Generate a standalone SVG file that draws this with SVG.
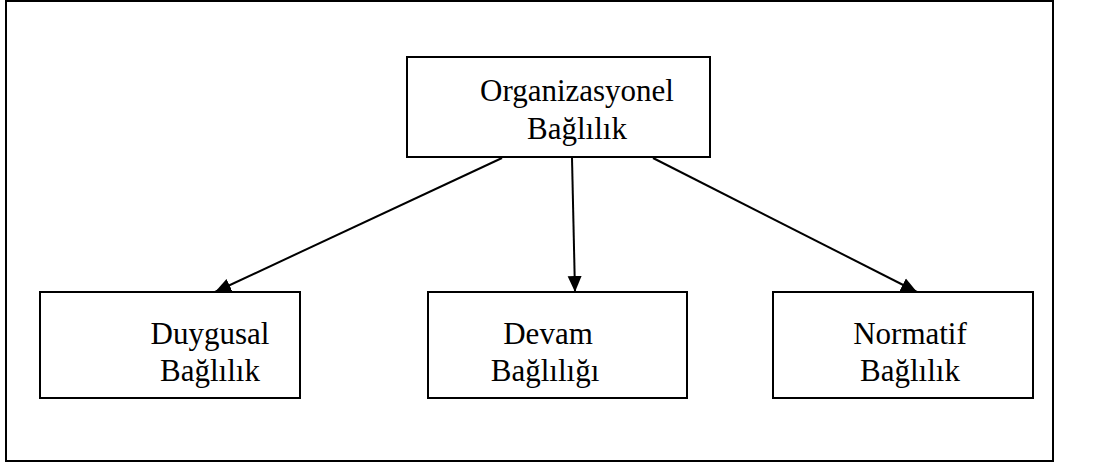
<svg xmlns="http://www.w3.org/2000/svg" width="1094" height="463" viewBox="0 0 1094 463">
  <defs>
    <marker id="arrow" viewBox="0 0 16 16" refX="16" refY="8" markerWidth="16" markerHeight="16" markerUnits="userSpaceOnUse" orient="auto">
      <path d="M0,1 L16,8 L0,15 Z" fill="#000"/>
    </marker>
    <style>
      .box { fill: #fff; stroke: #000; stroke-width: 2; }
      .frame { fill: none; stroke: #000; stroke-width: 2; }
      .label { font-family: "Liberation Serif", "Times New Roman", serif; font-size: 31px; fill: #000; text-anchor: middle; }
      .edge { stroke: #000; stroke-width: 2; fill: none; marker-end: url(#arrow); }
    </style>
  </defs>
  <rect width="1094" height="463" fill="#fff"/>
  <rect class="frame" x="6" y="1" width="1047" height="460"/>

  <g id="organizasyonel">
    <rect class="box" x="407" y="57" width="303" height="100"/>
    <text class="label" x="577" y="101">Organizasyonel</text>
    <text class="label" x="577" y="139">Bağlılık</text>
  </g>

  <g id="duygusal">
    <rect class="box" x="40" y="292" width="260" height="106"/>
    <text class="label" x="210" y="344">Duygusal</text>
    <text class="label" x="210" y="381">Bağlılık</text>
  </g>

  <g id="devam">
    <rect class="box" x="428" y="292" width="259" height="106"/>
    <text class="label" x="548" y="344">Devam</text>
    <text class="label" x="545" y="381">Bağlılığı</text>
  </g>

  <g id="normatif">
    <rect class="box" x="773" y="292" width="260" height="106"/>
    <text class="label" x="910" y="344">Normatif</text>
    <text class="label" x="910" y="381">Bağlılık</text>
  </g>

  <g id="connectors">
    <line class="edge" x1="502" y1="158" x2="215" y2="292"/>
    <line class="edge" x1="572" y1="158" x2="575" y2="292"/>
    <line class="edge" x1="653" y1="158" x2="917" y2="292"/>
  </g>
</svg>
